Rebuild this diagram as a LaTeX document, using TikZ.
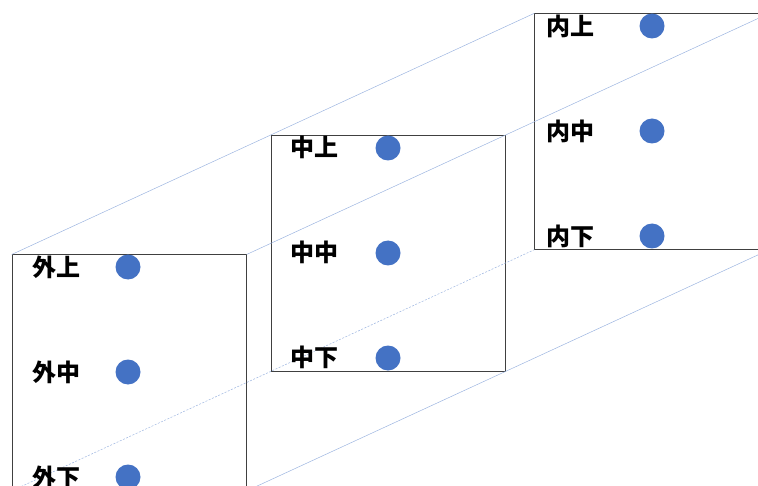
\documentclass[tikz,border=0pt]{standalone}
\usepackage{fontspec}
\newfontfamily\cjk{Noto Sans CJK JP}
\definecolor{edgeblue}{HTML}{9DB5E0}
\definecolor{dotblue}{HTML}{4472C4}
\definecolor{frame}{HTML}{404040}
\tikzset{
  layer/.style={draw=frame, line width=0.9bp, inner sep=0pt,
    minimum width=234bp, minimum height=235.5bp, anchor=north west},
  guide/.style={draw=edgeblue, line width=0.5bp},
  hidden/.style={guide, dash pattern=on 2bp off 1.5bp},
  marker/.style={circle, fill=dotblue, inner sep=0pt, minimum size=25bp},
  tag/.style={anchor=west, inner sep=0pt, font=\cjk\bfseries\fontsize{24bp}{28bp}\selectfont}
}
\begin{document}
\begin{tikzpicture}[x=1bp, y=-1bp]
  \useasboundingbox (0,0) rectangle (758,486);

  % three stacked layers
  \node[layer] (outer) at (11.7,254.5) {};
  \node[layer] (middle) at (270.7,135) {};
  \node[layer] (inner) at (534.3,13.3) {};

  % receding edges joining the corners
  \draw[guide] (outer.north west) -- (middle.north west) -- (inner.north west);
  \draw[guide] (outer.north east) -- (middle.north east) -- (inner.north east);
  \draw[guide] (outer.south east) -- (middle.south east) -- (inner.south east);
  \draw[hidden] (outer.south west) -- (middle.south west) -- (inner.south west);

  % outer layer
  \node[tag] (o1) at (32.5,267) {外上};
  \node[tag] (o2) at (32.5,372) {外中};
  \node[tag] (o3) at (32.5,477) {外下};
  \node[marker] (od1) at (128,267) {};
  \node[marker] (od2) at (128,372) {};
  \node[marker] (od3) at (128,477) {};

  % middle layer
  \node[tag] (m1) at (290.5,147.5) {中上};
  \node[tag] (m2) at (290.5,252.5) {中中};
  \node[tag] (m3) at (290.5,357.5) {中下};
  \node[marker] (md1) at (388,148) {};
  \node[marker] (md2) at (388,253) {};
  \node[marker] (md3) at (388,358) {};

  % inner layer
  \node[tag] (i1) at (546.5,26) {内上};
  \node[tag] (i2) at (546.5,131) {内中};
  \node[tag] (i3) at (546.5,236) {内下};
  \node[marker] (id1) at (652,26) {};
  \node[marker] (id2) at (652,131) {};
  \node[marker] (id3) at (652,236) {};
\end{tikzpicture}
\end{document}
